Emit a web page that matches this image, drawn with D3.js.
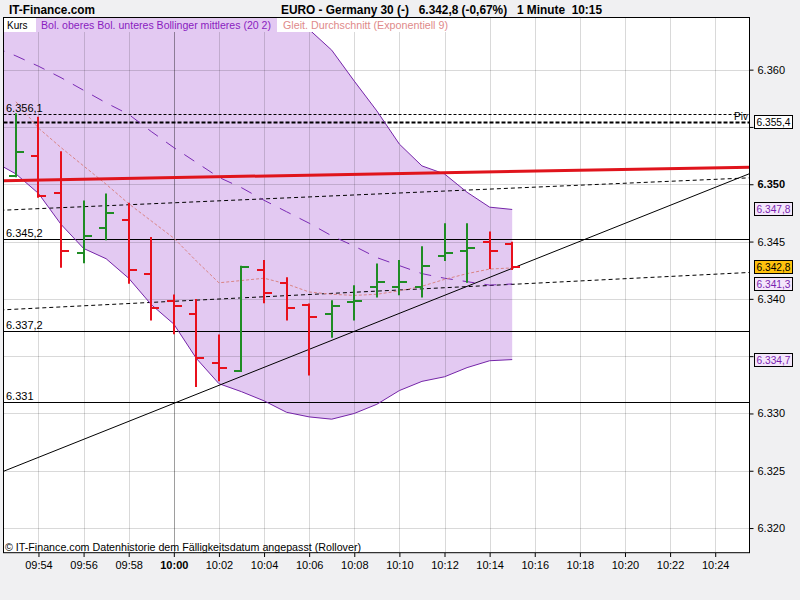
<!DOCTYPE html>
<html lang="de">
<head>
<meta charset="UTF-8">
<title>EURO - Germany 30 (1 Minute)</title>
<script src="https://d3js.org/d3.v7.min.js"></script>
<style>
  body { margin: 0; background: #f0f0f2; }
  svg { display: block; font-family: "Liberation Sans", Arial, sans-serif; }
  .axis path.domain { display: none; }
  .axis text { font-size: 11px; fill: #000; }
  .axis line { stroke: #000; }
</style>
</head>
<body>
<script>
// --- data (index points, 1 minute bars) ---
const barTimes = ["09:53","09:54","09:55","09:56","09:57","09:58","09:59","10:00","10:01","10:02","10:03","10:04",
                  "10:05","10:06","10:07","10:08","10:09","10:10","10:11","10:12","10:13","10:14","10:15"];
const open  = [6350.7,6352.5,6349.2,6344.0,6346.2,6346.9,6342.2,6339.8,6338.7,6334.4,6333.7,6342.5,
               6341.4,6339.5,6338.7,6339.7,6341.0,6341.0,6341.0,6343.7,6344.2,6345.0,6344.8];
const high  = [6356.1,6355.8,6352.8,6348.5,6349.1,6348.3,6345.3,6340.3,6339.9,6336.8,6342.8,6343.3,
               6341.8,6339.5,6339.8,6341.1,6343.0,6343.3,6344.5,6346.5,6346.5,6345.8,6344.9];
const low   = [6350.7,6348.9,6342.8,6343.2,6345.2,6341.4,6338.2,6337.0,6332.4,6332.9,6333.7,6339.7,
               6338.2,6333.4,6336.7,6338.2,6340.2,6340.4,6340.2,6343.4,6341.5,6342.7,6342.6];
const close = [6352.8,6349.0,6344.2,6345.5,6347.5,6342.5,6339.2,6339.4,6334.8,6334.0,6342.8,6340.5,
               6339.2,6338.4,6339.4,6339.8,6341.5,6341.5,6342.9,6344.0,6344.4,6344.2,6342.8];

// Bollinger (20 2)
const bolTimes  = ["09:52","09:53","09:54","09:55","09:56","09:57","09:58","09:59","10:00","10:01","10:02","10:03",
                   "10:04","10:05","10:06","10:07","10:08","10:09","10:10","10:11","10:12","10:13","10:14","10:15"];
const bolUpper  = [6372.0,6371.6,6371.4,6372.2,6372.0,6370.7,6370.4,6369.6,6368.5,6369.0,6368.6,6367.4,
                   6366.1,6365.1,6363.5,6361.7,6359.0,6356.4,6353.5,6351.6,6350.9,6349.3,6348.0,6347.8];
const bolLower  = [6352.0,6350.9,6349.2,6346.5,6344.4,6343.5,6341.8,6339.5,6337.8,6334.8,6332.6,6331.9,
                   6331.1,6330.1,6329.7,6329.5,6330.0,6330.8,6332.0,6332.8,6333.2,6334.0,6334.6,6334.7];
const bolMiddle = [6362.0,6361.2,6360.3,6359.3,6358.2,6357.1,6356.1,6354.6,6353.2,6351.9,6350.6,6349.7,
                   6348.6,6347.6,6346.6,6345.5,6344.6,6343.6,6342.9,6342.2,6341.8,6341.5,6341.2,6341.3];

// Gleitender Durchschnitt (Exponentiell 9), same minutes as the bars
const ema9 = [6357.2,6354.9,6353.2,6351.6,6350.0,6348.3,6346.8,6345.3,6343.3,6341.4,6341.6,6341.8,
              6341.3,6340.6,6340.4,6340.3,6340.4,6340.7,6341.1,6341.7,6342.2,6342.6,6342.7];

// horizontal levels
const dayHigh = 6356.1;
const pivot = 6355.4;
const levelValues = [6345.2, 6337.2, 6331.0];
const levelLabels = ["6.345,2", "6.337,2", "6.331"];

// drawn lines: value at 09:52 and at 10:26
const lineTimes   = ["09:52", "10:26"];
const trendLine   = [6324.6, 6351.3];
const redLine     = [6350.3, 6351.5];
const upperDashed = [6347.7, 6350.6];
const lowerDashed = [6339.0, 6342.35];

const changePct = "-0,67%";
const yTicks = [6320, 6325, 6330, 6335, 6340, 6345, 6350, 6355, 6360];

// --- helpers ---
const toMin = s => { const [h, m] = s.split(":").map(Number); return h * 60 + m; };
const de = d3.formatLocale({ decimal: ",", thousands: ".", grouping: [3], currency: ["", ""] });
const f1 = de.format(",.1f");
const f0 = de.format(",.0f");
const hhmm = m => String(Math.floor(m / 60)).padStart(2, "0") + ":" + String(m % 60).padStart(2, "0");

const W = 800, H = 600;
const x = d3.scaleLinear().domain([592.45, 625.52]).range([3.5, 749.5]);
const y = d3.scaleLinear().domain([6317.85, 6364.55]).range([552.7, 17.5]);

const svg = d3.select("body").append("svg").attr("width", W).attr("height", H);
svg.append("rect").attr("width", W).attr("height", H).attr("fill", "#f0f0f2");

// header
svg.append("text").attr("x", 9).attr("y", 14)
  .attr("font-size", 13).attr("font-weight", "bold")
  .attr("textLength", 86).attr("lengthAdjust", "spacingAndGlyphs")
  .text("IT-Finance.com");
svg.append("text").attr("x", 281).attr("y", 14)
  .attr("font-size", 13).attr("font-weight", "bold")
  .attr("textLength", 321).attr("lengthAdjust", "spacingAndGlyphs")
  .attr("xml:space", "preserve")
  .text(`EURO - Germany 30 (-)   ${f1(close[close.length - 1])} (${changePct})   1 Minute  ${barTimes[barTimes.length - 1]}`);

// plot area
svg.append("rect").attr("x", 3.5).attr("y", 17.5).attr("width", 746).attr("height", 535.2).attr("fill", "#fff");
svg.append("clipPath").attr("id", "plot").append("rect")
  .attr("x", 3.5).attr("y", 17.5).attr("width", 746).attr("height", 535.2);
const plot = svg.append("g").attr("clip-path", "url(#plot)");

const bol = bolTimes.map((t, i) => ({ m: toMin(t), up: bolUpper[i], lo: bolLower[i], mid: bolMiddle[i] }));

// Bollinger band fill
plot.append("path").datum(bol)
  .attr("fill", "#e3c9f2")
  .attr("d", d3.area().x(d => x(d.m)).y0(d => y(d.lo)).y1(d => y(d.up)));

// legend backgrounds
const legend = svg.append("g");
legend.append("rect").attr("x", 4).attr("y", 18).attr("width", 32).attr("height", 14).attr("fill", "#fff");
legend.append("rect").attr("x", 36).attr("y", 18).attr("width", 241).attr("height", 14).attr("fill", "#e3c9f2");
legend.append("rect").attr("x", 277).attr("y", 18).attr("width", 175).attr("height", 14).attr("fill", "#fff");

// grid
const xTicks = d3.range(594, 626, 2);
plot.selectAll(".vgrid").data(xTicks).join("line")
  .attr("x1", d => Math.round(x(d)) + 0.5).attr("x2", d => Math.round(x(d)) + 0.5)
  .attr("y1", 17.5).attr("y2", 552.7)
  .attr("stroke", d => d === 600 ? "rgba(0,0,0,0.38)" : "rgba(0,0,0,0.15)");
plot.selectAll(".hgrid").data(yTicks).join("line")
  .attr("x1", 3.5).attr("x2", 749.5)
  .attr("y1", d => Math.round(y(d)) + 0.5).attr("y2", d => Math.round(y(d)) + 0.5)
  .attr("stroke", "rgba(0,0,0,0.15)");

// legend text
legend.append("text").attr("x", 7).attr("y", 29).attr("font-size", 10).attr("fill", "#000").text("Kurs");
legend.append("text").attr("x", 41).attr("y", 29).attr("font-size", 10).attr("fill", "#8a1cc0")
  .attr("textLength", 230).attr("lengthAdjust", "spacingAndGlyphs")
  .text("Bol. oberes Bol. unteres Bollinger mittleres (20 2)");
legend.append("text").attr("x", 283).attr("y", 29).attr("font-size", 10).attr("fill", "#e08a8a")
  .attr("textLength", 165).attr("lengthAdjust", "spacingAndGlyphs")
  .text("Gleit. Durchschnitt (Exponentiell 9)");

// horizontal levels
const hl = (v, attrs) => {
  const l = plot.append("line").attr("x1", 3.5).attr("x2", 749.5)
    .attr("y1", Math.round(y(v)) + 0.5).attr("y2", Math.round(y(v)) + 0.5).attr("stroke", "#000");
  Object.entries(attrs).forEach(([k, val]) => l.attr(k, val));
};
hl(dayHigh, { "stroke-dasharray": "3,2" });
hl(pivot, { "stroke-width": 2, "stroke-dasharray": "4,2" });
levelValues.forEach(v => hl(v, {}));

// left labels
svg.append("text").attr("x", 6).attr("y", Math.round(y(dayHigh)) - 2).attr("font-size", 11).text(f1(dayHigh));
levelValues.forEach((v, i) => {
  svg.append("text").attr("x", 6).attr("y", Math.round(y(v)) - 2).attr("font-size", 11).text(levelLabels[i]);
});
svg.append("text").attr("x", 748).attr("y", Math.round(y(pivot)) - 2).attr("text-anchor", "end")
  .attr("font-size", 10).text("Piv");

// straight lines across the chart
const lt = lineTimes.map(toMin);
const seg = (vals, attrs) => {
  const l = plot.append("line")
    .attr("x1", x(lt[0])).attr("y1", y(vals[0])).attr("x2", x(lt[1])).attr("y2", y(vals[1]));
  Object.entries(attrs).forEach(([k, val]) => l.attr(k, val));
};
seg(upperDashed, { stroke: "#000", "stroke-dasharray": "4,3" });
seg(lowerDashed, { stroke: "#000", "stroke-dasharray": "4,3" });

// Bollinger lines
plot.append("path").datum(bol).attr("fill", "none").attr("stroke", "#7424a8")
  .attr("d", d3.line().x(d => x(d.m)).y(d => y(d.up)));
plot.append("path").datum(bol).attr("fill", "none").attr("stroke", "#7424a8")
  .attr("d", d3.line().x(d => x(d.m)).y(d => y(d.lo)));
plot.append("path").datum(bol).attr("fill", "none").attr("stroke", "#7a2ab4")
  .attr("stroke-dasharray", "12,10")
  .attr("d", d3.line().x(d => x(d.m)).y(d => y(d.mid)));

// EMA 9
const bars = barTimes.map((t, i) => ({ m: toMin(t), o: open[i], h: high[i], l: low[i], c: close[i], e: ema9[i] }));
plot.append("path").datum(bars).attr("fill", "none").attr("stroke", "#d98484")
  .attr("stroke-dasharray", "3,2")
  .attr("d", d3.line().x(d => x(d.m)).y(d => y(d.e)));

seg(redLine, { stroke: "#e0141c", "stroke-width": 3 });
seg(trendLine, { stroke: "#000" });

// OHLC bars
const colour = d => d.c >= d.o ? "#1f8c24" : "#e8101c";
const g = plot.selectAll(".bar").data(bars).join("g").attr("stroke", colour).attr("stroke-width", 2);
g.append("line")
  .attr("x1", d => Math.round(x(d.m))).attr("x2", d => Math.round(x(d.m)))
  .attr("y1", d => y(d.h) - 1).attr("y2", d => y(d.l) + 1);
g.append("line")
  .attr("x1", d => Math.round(x(d.m)) - 7).attr("x2", d => Math.round(x(d.m)))
  .attr("y1", d => Math.round(y(d.o))).attr("y2", d => Math.round(y(d.o)));
g.append("line")
  .attr("x1", d => Math.round(x(d.m))).attr("x2", d => Math.round(x(d.m)) + 8)
  .attr("y1", d => Math.round(y(d.c))).attr("y2", d => Math.round(y(d.c)));

// frame
svg.append("rect").attr("x", 3.5).attr("y", 17.5).attr("width", 746).attr("height", 535.2)
  .attr("fill", "none").attr("stroke", "#000");

// footer note
svg.append("text").attr("x", 5).attr("y", 551).attr("font-size", 10)
  .attr("textLength", 356).attr("lengthAdjust", "spacingAndGlyphs")
  .text("© IT-Finance.com  Datenhistorie dem Fälligkeitsdatum angepasst (Rollover)");

// x axis
const xAxis = svg.append("g").attr("class", "axis").attr("transform", "translate(0,553)")
  .call(d3.axisBottom(x).tickValues(xTicks).tickSize(4).tickPadding(4).tickFormat(hhmm));
xAxis.selectAll(".tick text").filter(d => d === 600).attr("font-weight", "bold");

// value boxes on the right
const last = bolTimes.length - 1;
const boxes = [
  { v: pivot, fill: "#fff", text: "#000" },
  { v: bolUpper[last], fill: "#f4e6fb", text: "#7a1fb0" },
  { v: close[close.length - 1], fill: "#ffc20e", text: "#000" },
  { v: bolMiddle[last], fill: "#f4e6fb", text: "#7a1fb0" },
  { v: bolLower[last], fill: "#f4e6fb", text: "#7a1fb0" }
];

// y axis (right); a tick label that sits under a value box is not shown
const yAxis = svg.append("g").attr("class", "axis").attr("transform", "translate(749.5,0)")
  .call(d3.axisRight(y).tickValues(yTicks).tickSize(4).tickPadding(4).tickFormat(f0));
yAxis.selectAll(".tick text").filter(d => d === 6350).attr("font-weight", "bold").attr("font-size", 12);
yAxis.selectAll(".tick text").filter(d => boxes.some(b => Math.abs(y(b.v) - y(d)) < 10)).remove();

const bx = svg.selectAll(".box").data(boxes).join("g")
  .attr("transform", d => `translate(754.5,${Math.round(y(d.v)) - 6.5})`);
bx.append("rect").attr("width", 38).attr("height", 13).attr("fill", d => d.fill).attr("stroke", "#000");
bx.append("text").attr("x", 2).attr("y", 10.5).attr("font-size", 11).attr("fill", d => d.text)
  .attr("textLength", 34).attr("lengthAdjust", "spacingAndGlyphs")
  .text(d => f1(d.v));
</script>
</body>
</html>
